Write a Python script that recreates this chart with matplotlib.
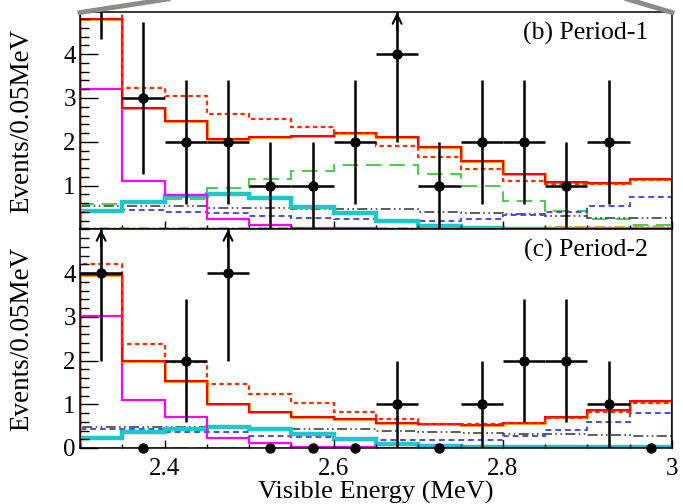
import numpy as np
import matplotlib
matplotlib.use("Agg")
import matplotlib.pyplot as plt
from matplotlib.lines import Line2D
from matplotlib.ticker import MultipleLocator

plt.rcParams['font.family'] = ['Liberation Serif', 'DejaVu Serif']

# bin edges (MeV), 0.05 MeV bins
edges = [2.30, 2.35, 2.40, 2.45, 2.50, 2.55, 2.60, 2.65,
         2.70, 2.75, 2.80, 2.85, 2.90, 2.95, 3.00]
centers = [2.325, 2.375, 2.425, 2.475, 2.525, 2.575, 2.625,
           2.675, 2.725, 2.775, 2.825, 2.875, 2.925, 2.975]

# ---- (b) Period-1 ----
p1_data = [7, 3, 2, 2, 1, 1, 2, 4, 1, 2, 2, 1, 2, None]
p1_total = [4.80, 2.77, 2.47, 2.07, 2.10, 2.14, 2.20, 2.11, 1.88, 1.56, 1.27, 1.08, 1.05, 1.15]
p1_alt = [5.40, 3.23, 3.05, 2.64, 2.53, 2.34, 2.20, 1.90, 1.65, 1.37, 1.10, 1.04, 1.04, 1.14]
p1_magenta = [3.20, 1.10, 0.78, 0.23, 0.11, 0.04, 0.03, 0.02, 0.01, 0.01, 0.01, 0.01, 0.01, 0.01]
p1_cyan = [0.42, 0.62, 0.77, 0.80, 0.71, 0.52, 0.37, 0.20, 0.08, 0.03, 0.02, 0.02, 0.02, 0.02]
p1_green = [0.59, 0.64, 0.70, 0.95, 1.15, 1.33, 1.46, 1.46, 1.27, 0.99, 0.66, 0.42, 0.23, 0.11]
p1_gray = [0.53, 0.53, 0.53, 0.49, 0.48, 0.47, 0.47, 0.46, 0.41, 0.38, 0.36, 0.30, 0.27, 0.27]
p1_blue = [0.44, 0.44, 0.40, 0.38, 0.30, 0.27, 0.23, 0.19, 0.19, 0.24, 0.34, 0.40, 0.53, 0.74]
p1_orange = [0.04, 0.04, 0.04, 0.04, 0.04, 0.04, 0.04, 0.04, 0.03, 0.03, 0.04, 0.05, 0.06, 0.07]
p1_lime = [0.02, 0.02, 0.02, 0.02, 0.02, 0.02, 0.02, 0.02, 0.02, 0.02, 0.02, 0.02, 0.03, 0.03]

# ---- (c) Period-2 ----
p2_data = [4, 0, 2, 4, 0, 0, 0, 1, 0, 1, 2, 2, 1, 0]
p2_total = [3.97, 2.00, 1.54, 1.01, 0.83, 0.70, 0.66, 0.58, 0.55, 0.53, 0.58, 0.70, 0.87, 1.08]
p2_alt = [4.20, 2.38, 1.97, 1.47, 1.24, 1.03, 0.83, 0.66, 0.56, 0.54, 0.58, 0.68, 0.83, 1.04]
p2_magenta = [3.03, 1.10, 0.70, 0.22, 0.11, 0.03, 0.02, 0.01, 0.01, 0.01, 0.01, 0.01, 0.01, 0.01]
p2_cyan = [0.22, 0.37, 0.44, 0.49, 0.43, 0.32, 0.20, 0.09, 0.04, 0.02, 0.02, 0.02, 0.02, 0.02]
p2_green = [0.01] * 14
p2_gray = [0.47, 0.47, 0.47, 0.46, 0.44, 0.43, 0.43, 0.39, 0.36, 0.34, 0.32, 0.31, 0.29, 0.27]
p2_blue = [0.43, 0.43, 0.37, 0.37, 0.28, 0.25, 0.22, 0.18, 0.18, 0.18, 0.28, 0.41, 0.60, 0.81]
p2_orange = [0.01] * 14
p2_lime = [0.01] * 14

W, H = 683, 504


def px_box(x0, y0, x1, y1):
    return [x0 / W, 1 - y1 / H, (x1 - x0) / W, (y1 - y0) / H]


def draw_panel(ax, data, total, alt, magenta, cyan, green, gray, blue, orange, lime, ytop, label, show_zero):
    ax.stairs(orange, edges, color='#ff9900', lw=1.3, linestyle=(0, (6, 2, 1, 2)))
    ax.stairs(lime, edges, color='#99dd33', lw=1.3, linestyle=(0, (1, 2)))
    ax.stairs(green, edges, color='#4ccc4c', lw=1.4, linestyle=(0, (8, 4)))
    ax.stairs(gray, edges, color='#3c463c', lw=1.2, linestyle=(0, (6, 2, 1, 2, 1, 2)))
    ax.stairs(blue, edges, color='#4a4aee', lw=1.4, linestyle=(0, (3, 2)))
    ax.stairs(cyan, edges, color='#1ec8c8', lw=3.2)
    ax.stairs(magenta, edges, color='#ff00ff', lw=1.6)
    ax.stairs(total, edges, color='#ff9900', lw=1.9)
    ax.stairs(total, edges, color='#ff0000', lw=1.5)
    ax.stairs(alt, edges, color='#ff2a00', lw=1.6, linestyle=(0, (2, 1.5)))

    for c, n in zip(centers, data):
        if n is None:
            continue
        if n == 0:
            ax.plot(c, 0, 'o', color='k', ms=6.5, clip_on=False, zorder=6)
            continue
        err = np.sqrt(n)
        ax.errorbar(c, n, xerr=0.025, yerr=err, fmt='o', color='k', ms=6.5,
                    elinewidth=1.8, capsize=0, zorder=6)
        if n < ytop < n + err:
            ax.annotate('', xy=(c, ytop), xytext=(c, ytop - 0.4),
                        arrowprops=dict(arrowstyle='->', lw=1.5, color='k',
                                        shrinkA=0, shrinkB=0, mutation_scale=16),
                        zorder=7)

    ax.set_xlim(2.3, 3.0)
    ax.set_ylim(0, ytop)
    ax.xaxis.set_major_locator(MultipleLocator(0.2))
    ax.xaxis.set_minor_locator(MultipleLocator(0.05))
    ax.yaxis.set_major_locator(MultipleLocator(1))
    ax.yaxis.set_minor_locator(MultipleLocator(0.2))
    ax.tick_params(axis='y', which='major', direction='in', length=13, width=1, labelsize=18, pad=3)
    ax.tick_params(axis='y', which='minor', direction='in', length=6.5, width=1)
    ax.tick_params(axis='x', which='major', direction='in', length=6, width=1, labelsize=18, pad=7)
    ax.tick_params(axis='x', which='minor', direction='in', length=3, width=1)
    if not show_zero:
        ax.set_yticks([1, 2, 3, 4])
        ax.tick_params(axis='x', labelbottom=False)
    else:
        ax.set_yticks([0, 1, 2, 3, 4])
        ax.set_xticks([2.4, 2.6, 2.8, 3.0])
        ax.set_xticklabels(['2.4', '2.6', '2.8', '3'])
    for s in ax.spines.values():
        s.set_linewidth(1.1)
    ax.text(0.96, 0.905, label, transform=ax.transAxes, ha='right', va='center', fontsize=18.5)


fig = plt.figure(figsize=(W / 100, H / 100), dpi=100)
ax_top = fig.add_axes(px_box(80, 12.5, 672, 229.5))
ax_bot = fig.add_axes(px_box(80, 229.5, 672, 448))

draw_panel(ax_top, p1_data, p1_total, p1_alt, p1_magenta, p1_cyan, p1_green, p1_gray,
           p1_blue, p1_orange, p1_lime, 4.95, '(b) Period-1', False)
draw_panel(ax_bot, p2_data, p2_total, p2_alt, p2_magenta, p2_cyan, p2_green, p2_gray,
           p2_blue, p2_orange, p2_lime, 5.0, '(c) Period-2', True)

# zoom-in guide lines from the panel above
fig.add_artist(Line2D([80 / W, 168 / W], [1 - 12.5 / H, 1 + 1 / H], color='#8c8c8c', lw=3.5,
                      transform=fig.transFigure))
fig.add_artist(Line2D([672 / W, 627 / W], [1 - 12.5 / H, 1 + 1 / H], color='#8c8c8c', lw=3.5,
                      transform=fig.transFigure))

fig.text(22 / W, 1 - 121 / H, 'Events/0.05MeV', rotation=90, ha='center', va='center', fontsize=19.5)
fig.text(22 / W, 1 - 339 / H, 'Events/0.05MeV', rotation=90, ha='center', va='center', fontsize=19.5)
fig.text(376 / W, 1 - 481 / H, 'Visible Energy (MeV)', ha='center', va='top', fontsize=19)

fig.savefig('out.png', dpi=100)
